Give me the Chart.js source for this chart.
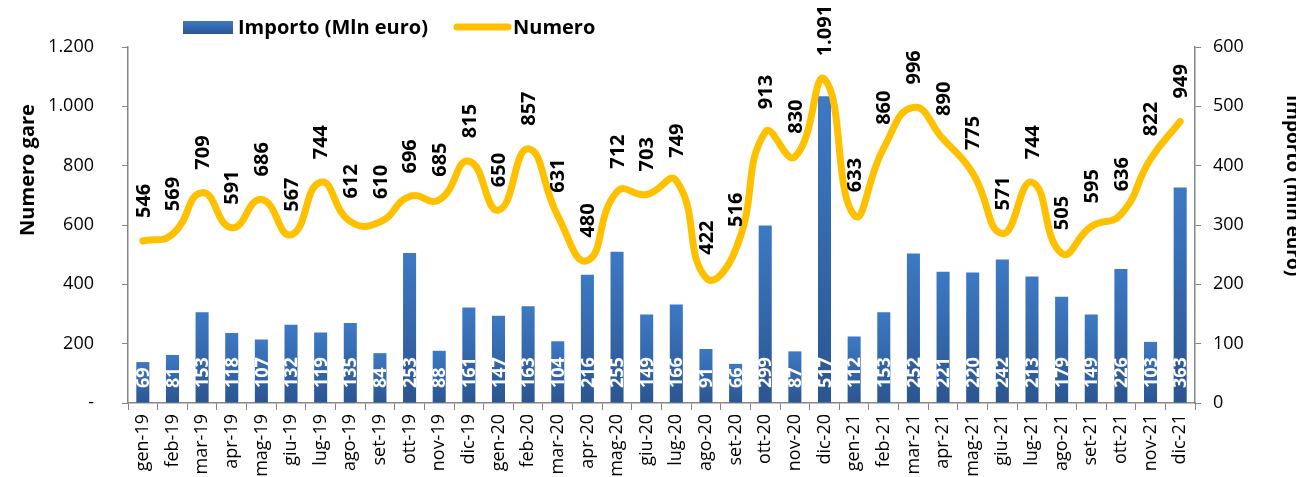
<!DOCTYPE html>
<html>
<head>
<meta charset="utf-8">
<script src="https://cdn.jsdelivr.net/npm/chart.js@4.4.1/dist/chart.umd.min.js"></script>
<style>
  html, body { margin: 0; padding: 0; background: #fff; }
  #wrap { width: 1305px; height: 477px; position: relative; }
</style>
</head>
<body>
<div id="wrap"><canvas id="gare"></canvas></div>
<script>
const months = [
  "gen-19", "feb-19", "mar-19", "apr-19", "mag-19", "giu-19", "lug-19", "ago-19", "set-19", "ott-19", "nov-19", "dic-19",
  "gen-20", "feb-20", "mar-20", "apr-20", "mag-20", "giu-20", "lug-20", "ago-20", "set-20", "ott-20", "nov-20", "dic-20",
  "gen-21", "feb-21", "mar-21", "apr-21", "mag-21", "giu-21", "lug-21", "ago-21", "set-21", "ott-21", "nov-21", "dic-21"
];
const importo = [
  69, 81, 153, 118, 107, 132, 119, 135, 84, 253, 88, 161,
  147, 163, 104, 216, 255, 149, 166, 91, 66, 299, 87, 517,
  112, 153, 252, 221, 220, 242, 213, 179, 149, 226, 103, 363
];
const numero = [
  546, 569, 709, 591, 686, 567, 744, 612, 610, 696, 685, 815,
  650, 857, 631, 480, 712, 703, 749, 422, 516, 913, 830, 1091,
  633, 860, 996, 890, 775, 571, 744, 505, 595, 636, 822, 949
];

const FONT = "'Open Sans', 'DejaVu Sans', sans-serif";
const GOLD = "#FFC000";
const AXIS = "#868686";

// thousands with a dot, like the Excel original
const itNum = (v) => String(v).replace(/\B(?=(\d{3})+(?!\d))/g, ".");

function barGradient(ctx, top, base) {
  const g = ctx.createLinearGradient(0, top, 0, base);
  g.addColorStop(0, "#3D79C4");
  g.addColorStop(1, "#2B5590");
  return g;
}

// legend, axis titles and value labels drawn straight on the canvas
const decor = {
  id: "decor",
  afterDatasetsDraw(chart) {
    const c = chart.ctx;
    const yR = chart.scales.y1;

    // bar values, white, rotated, sitting at the base
    c.save();
    c.fillStyle = "#fff";
    c.font = "bold 18px " + FONT;
    c.textAlign = "left";
    c.textBaseline = "middle";
    chart.getDatasetMeta(1).data.forEach((bar, i) => {
      c.save();
      c.translate(bar.x, yR.getPixelForValue(0) - 15);
      c.rotate(-Math.PI / 2);
      c.fillText(String(importo[i]), 0, 1);
      c.restore();
    });

    // line values above the points
    c.fillStyle = "#000";
    c.font = "bold 20px " + FONT;
    chart.getDatasetMeta(0).data.forEach((pt, i) => {
      c.save();
      c.translate(pt.x, pt.y - 23);
      c.rotate(-Math.PI / 2);
      c.fillText(itNum(numero[i]), 0, 1);
      c.restore();
    });
    c.restore();
  },
  afterDraw(chart) {
    const c = chart.ctx;
    c.save();
    c.fillStyle = "#000";
    c.textBaseline = "middle";

    // legend
    c.fillStyle = barGradient(c, 21, 34);
    c.fillRect(183, 21, 50, 13);
    c.fillStyle = "#000";
    c.font = "bold 20px " + FONT;
    c.textAlign = "left";
    c.fillText("Importo (Mln euro)", 238, 28);
    c.strokeStyle = GOLD;
    c.lineWidth = 7;
    c.lineCap = "round";
    c.beginPath();
    c.moveTo(457, 27);
    c.lineTo(508, 27);
    c.stroke();
    c.fillText("Numero", 513, 28);

    // left axis title
    c.font = "bold 20px " + FONT;
    c.save();
    c.translate(28, 170);
    c.rotate(-Math.PI / 2);
    c.textAlign = "center";
    c.fillText("Numero gare", 0, 0);
    c.restore();

    // right axis title, cut by the picture edge as in the original
    c.font = "bold 19px " + FONT;
    c.save();
    c.beginPath();
    c.rect(1250, 0, 46, 477);
    c.clip();
    c.translate(1292, 95);
    c.rotate(Math.PI / 2);
    c.textAlign = "left";
    c.fillText("Importo (mln euro)", 0, 0);
    c.restore();

    c.restore();
  }
};

new Chart(document.getElementById("gare"), {
  type: "bar",
  data: {
    labels: months,
    datasets: [
      {
        type: "line",
        label: "Numero",
        data: numero,
        yAxisID: "y",
        borderColor: GOLD,
        borderWidth: 7,
        borderCapStyle: "round",
        borderJoinStyle: "round",
        tension: 0.5,
        pointRadius: 0,
        fill: false,
        order: 0
      },
      {
        label: "Importo (Mln euro)",
        data: importo,
        yAxisID: "y1",
        backgroundColor: (ctx) => {
          const { chart } = ctx;
          if (!chart.chartArea || ctx.type !== "data") return "#3566A8";
          const s = chart.scales.y1;
          return barGradient(chart.ctx, s.getPixelForValue(ctx.raw), s.getPixelForValue(0));
        },
        barPercentage: 0.44,
        categoryPercentage: 1,
        order: 1
      }
    ]
  },
  options: {
    responsive: true,
    maintainAspectRatio: false,
    animation: false,
    layout: { padding: { top: 47, left: 0, right: 0, bottom: 0 } },
    plugins: { legend: { display: false }, tooltip: { enabled: false } },
    scales: {
      x: {
        offset: true,
        grid: { drawOnChartArea: false, offset: true, color: AXIS, tickLength: 7, tickColor: AXIS },
        border: { color: AXIS, width: 1.5 },
        ticks: { color: "#000", font: { family: FONT, size: 18 }, minRotation: 90, maxRotation: 90, padding: 4, autoSkip: false },
        afterFit: (s) => { s.height = 74; }
      },
      y: {
        position: "left",
        min: 0, max: 1200,
        grid: { drawOnChartArea: false, color: AXIS, tickLength: 6, tickColor: AXIS },
        border: { color: AXIS, width: 1.5 },
        ticks: { stepSize: 200, color: "#000", font: { family: FONT, size: 18 }, padding: 28,
          callback: (v) => v === 0 ? "-" : itNum(v) },
        afterFit: (s) => { s.width = 128; }
      },
      y1: {
        position: "right",
        min: 0, max: 600,
        grid: { drawOnChartArea: false, color: AXIS, tickLength: 6, tickColor: AXIS },
        border: { color: AXIS, width: 1.5 },
        ticks: { stepSize: 100, color: "#000", font: { family: FONT, size: 18 }, padding: 12 },
        afterFit: (s) => { s.width = 110; }
      }
    }
  },
  plugins: [decor]
});
</script>
</body>
</html>
